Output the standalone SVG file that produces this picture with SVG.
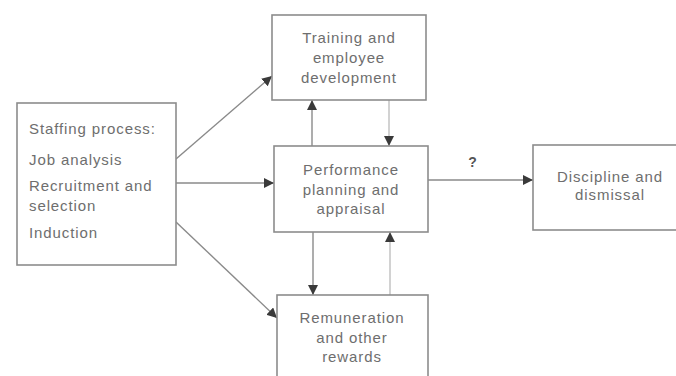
<svg xmlns="http://www.w3.org/2000/svg" width="676" height="376" viewBox="0 0 676 376">
<defs>
<style>
.box{fill:#fff;stroke:#8c8c8c;stroke-width:1.6}
.t{font-family:"Liberation Sans",Arial,sans-serif;font-size:15px;fill:#6e6e6e;letter-spacing:0.9px}
.c{text-anchor:middle}
.ln{stroke:#8a8a8a;stroke-width:1.4;fill:none}
.lt{stroke:#b4b4b4;stroke-width:1.2;fill:none}
</style>
<marker id="ah" viewBox="0 0 10 10" refX="10" refY="5" markerWidth="10" markerHeight="10" markerUnits="userSpaceOnUse" orient="auto">
<path d="M0,0 L10,5 L0,10 Z" fill="#3a3a3a"/>
</marker>
</defs>
<rect width="676" height="376" fill="#fff"/>
<g id="connectors">
<line class="ln" x1="176" y1="159" x2="272" y2="76" marker-end="url(#ah)"/>
<line class="ln" x1="176" y1="183" x2="274" y2="183" marker-end="url(#ah)"/>
<line class="ln" x1="176" y1="222" x2="277" y2="318" marker-end="url(#ah)"/>
<line class="ln" x1="312" y1="146" x2="312" y2="100" marker-end="url(#ah)"/>
<line class="lt" x1="389" y1="100" x2="389" y2="146" marker-end="url(#ah)"/>
<line class="ln" x1="313" y1="232" x2="313" y2="295" marker-end="url(#ah)"/>
<line class="lt" x1="390" y1="295" x2="390" y2="232" marker-end="url(#ah)"/>
<line class="ln" x1="428" y1="180" x2="533" y2="180" marker-end="url(#ah)"/>
<text class="t c" x="473" y="167" style="font-size:14px;font-weight:bold;fill:#555">?</text>
</g>
<g id="staffing">
<rect class="box" x="17" y="103" width="159" height="162"/>
<text class="t" x="29" y="134">Staffing process:</text>
<text class="t" x="29" y="165">Job analysis</text>
<text class="t" x="29" y="191">Recruitment and</text>
<text class="t" x="29" y="211">selection</text>
<text class="t" x="29" y="238">Induction</text>
</g>
<g id="training">
<rect class="box" x="272" y="15" width="154" height="85"/>
<text class="t c" x="349" y="43">Training and</text>
<text class="t c" x="349" y="63">employee</text>
<text class="t c" x="349" y="83">development</text>
</g>
<g id="performance">
<rect class="box" x="274" y="146" width="154" height="86"/>
<text class="t c" x="351" y="175">Performance</text>
<text class="t c" x="351" y="195">planning and</text>
<text class="t c" x="351" y="214">appraisal</text>
</g>
<g id="remuneration">
<rect class="box" x="277" y="295" width="151" height="100"/>
<text class="t c" x="352" y="323">Remuneration</text>
<text class="t c" x="352" y="343">and other</text>
<text class="t c" x="352" y="362">rewards</text>
</g>
<g id="discipline">
<rect class="box" x="533" y="145" width="160" height="85"/>
<text class="t c" x="610" y="182">Discipline and</text>
<text class="t c" x="610" y="200">dismissal</text>
</g>
</svg>
